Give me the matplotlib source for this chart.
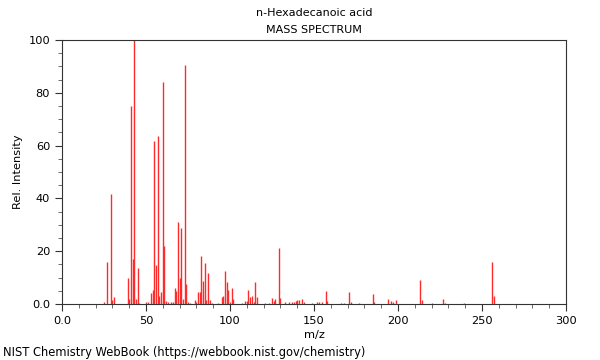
import matplotlib
matplotlib.use("Agg")
import matplotlib.pyplot as plt
from matplotlib.ticker import MultipleLocator

mz = [25, 27, 29, 30, 31, 39, 40, 41, 42, 43, 44, 45, 46, 50, 51, 53, 54, 55, 56,
      57, 58, 59, 60, 61, 62, 63, 65, 66, 67, 68, 69, 70, 71, 72, 73, 74, 75, 76,
      79, 80, 81, 82, 83, 84, 85, 86, 87, 88, 89, 93, 95, 96, 97, 98, 99, 100,
      101, 102, 107, 109, 110, 111, 112, 113, 114, 115, 116, 121, 123, 125, 126,
      127, 129, 130, 133, 135, 137, 138, 139, 140, 141, 143, 144, 149, 152, 153,
      155, 157, 158, 166, 168, 171, 172, 177, 185, 186, 194, 196, 197, 199, 213,
      214, 220, 227, 228, 239, 256, 257]
intensity = [0.9, 15.9, 41.7, 1.5, 2.8, 9.7, 1.9, 75.1, 16.9, 100.0, 1.8, 13.5,
             0.5, 0.6, 0.8, 4.0, 5.3, 61.9, 14.8, 63.6, 3.0, 4.4, 84.0, 22.0, 1.0,
             0.8, 0.6, 0.8, 6.2, 4.9, 31.2, 9.7, 28.7, 1.8, 90.5, 7.4, 0.6, 0.4,
             1.4, 0.6, 4.5, 4.5, 18.3, 8.7, 15.5, 1.5, 11.7, 1.4, 0.5, 0.5, 2.8,
             3.2, 12.4, 8.2, 5.4, 0.8, 6.2, 1.9, 0.5, 1.0, 1.0, 5.3, 2.7, 3.2, 0.6,
             8.3, 2.8, 0.5, 0.5, 2.3, 1.0, 1.9, 21.3, 2.4, 0.6, 0.6, 0.9, 0.9, 1.3,
             1.5, 1.5, 2.0, 0.6, 0.4, 0.6, 0.6, 0.9, 4.9, 1.1, 0.5, 0.5, 4.5, 0.6,
             0.3, 3.8, 0.6, 1.8, 1.1, 0.6, 1.5, 9.1, 1.5, 0.3, 1.9, 0.4, 0.3,
             16.0, 3.0]

titulo = "n-Hexadecanoic acid"
subtitulo = "MASS SPECTRUM"
fonte = "NIST Chemistry WebBook (https://webbook.nist.gov/chemistry)"

fig = plt.figure(figsize=(6, 3.6), dpi=100)
ax = fig.add_axes([0.1033, 0.1556, 0.84, 0.7333])

ax.vlines(mz, 0, intensity, colors="#ff2a2a", linewidth=1.0)

ax.set_xlim(0, 300)
ax.set_ylim(0, 100)
ax.xaxis.set_minor_locator(MultipleLocator(10))
ax.yaxis.set_minor_locator(MultipleLocator(5))
ax.set_xticks([0, 50, 100, 150, 200, 250, 300])
ax.set_xticklabels(["0.0", "50", "100", "150", "200", "250", "300"])
ax.set_yticks([0, 20, 40, 60, 80, 100])
ax.set_yticklabels(["0.0", "20", "40", "60", "80", "100"])
ax.tick_params(which="major", length=5, width=0.8, labelsize=8.2, color="#333333")
ax.tick_params(which="minor", length=3, width=0.6, color="#555555")
for s in ax.spines.values():
    s.set_linewidth(0.8)
    s.set_color("#333333")

ax.set_xlabel("m/z", fontsize=8.2, labelpad=3)
ax.set_ylabel("Rel. Intensity", fontsize=8.2, labelpad=4)

fig.text(0.5233, 0.963, titulo, ha="center", va="center", fontsize=8)
fig.text(0.5233, 0.916, subtitulo, ha="center", va="center", fontsize=8)
fig.text(0.005, 0.02, fonte, ha="left", va="center", fontsize=8.3)

fig.savefig("out.png", dpi=100)
